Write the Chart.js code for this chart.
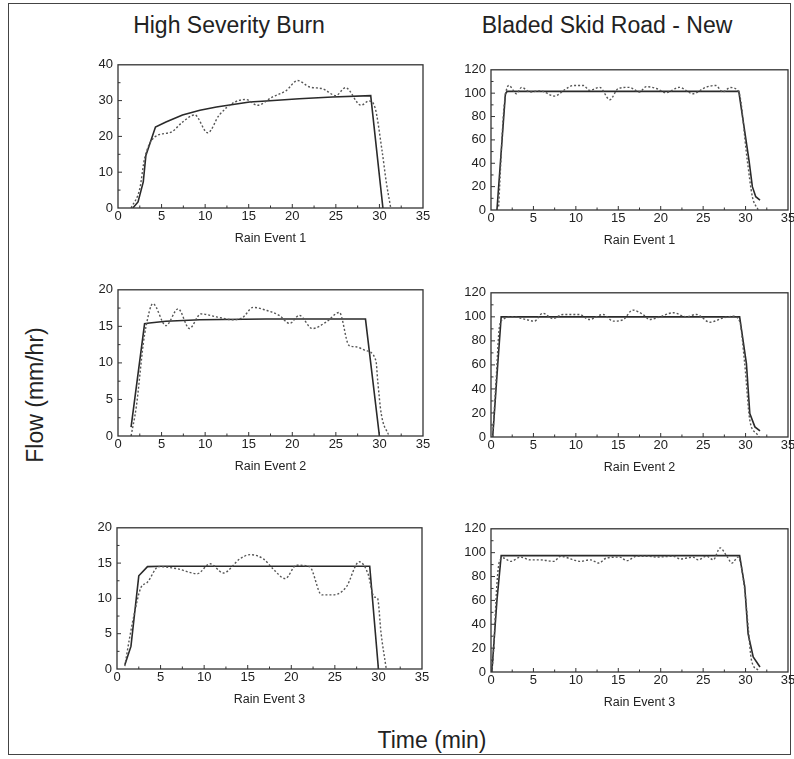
<!DOCTYPE html>
<html>
<head>
<meta charset="utf-8">
<script src="https://cdn.jsdelivr.net/npm/chart.js@4.4.1/dist/chart.umd.min.js"></script>
<style>
  body { margin: 0; width: 794px; height: 759px; background: #fff; position: relative; overflow: hidden;
         font-family: "Liberation Sans", Arial, sans-serif; color: #222; }
  #frame { position: absolute; left: 8px; top: 3px; width: 783px; height: 752px; border: 1.5px solid #444; box-sizing: border-box; }
  .lbl { position: absolute; font-size: 23px; white-space: nowrap; transform: translate(-50%, -50%); }
  canvas { position: absolute; }
</style>
</head>
<body>
<div id="frame"></div>
<div class="lbl" style="left:229px; top:25px">High Severity Burn</div>
<div class="lbl" style="left:607px; top:25px">Bladed Skid Road - New</div>
<div class="lbl" style="left:35px; top:395px; transform:translate(-50%,-50%) rotate(-90deg)">Flow (mm/hr)</div>
<div class="lbl" style="left:432px; top:740px">Time (min)</div>

<canvas id="burn1"></canvas>
<canvas id="skid1"></canvas>
<canvas id="burn2"></canvas>
<canvas id="skid2"></canvas>
<canvas id="burn3"></canvas>
<canvas id="skid3"></canvas>

<script>
// [time (min), flow (mm/hr)] - solid = model, dotted = measured
const burnEvent1Model = [[1.7,0],[2.3,1.7],[2.9,7.3],[3.2,14.7],[4.3,22.6],[5.5,24],[7.4,26],[9.4,27.3],[11.3,28.2],[13.2,28.9],[15.1,29.6],[17,29.9],[20.8,30.5],[24.6,31],[29.0,31.4],[30.4,0]];
const burnEvent1Obs = [[1.5,0],[2.5,5.4],[3.05,13.8],[4.2,19.8],[6.1,21.2],[7.4,24],[8.8,26],[10.3,21],[11.6,25.9],[13.4,29.6],[14.7,30.3],[16.0,28.7],[17.7,31],[19.3,32.8],[20.6,35.6],[22,33.8],[23.5,33.3],[25,31.4],[26.1,33.6],[27.9,28.7],[28.8,29.9],[29.5,28],[30.3,16],[30.8,7],[31.3,0]];

const burnEvent2Model = [[1.5,1.2],[3.05,15.35],[3.6,15.45],[5.5,15.7],[9.4,15.9],[17,16],[28.4,16],[30.0,0]];
const burnEvent2Obs = [[1.5,0],[2.1,4],[2.9,12.6],[3.2,14.9],[4.0,18.1],[5.5,15.1],[6.9,17.4],[8.2,14.7],[9.5,16.7],[11.3,16.3],[13.2,15.9],[14.3,16.2],[15.5,17.6],[17.0,17.2],[18.5,16.5],[19.7,15.4],[20.8,16.5],[22.3,14.7],[23.9,15.6],[25.4,16.9],[26.5,12.4],[27.3,12.2],[28.4,11.7],[29.6,10.3],[29.8,7.6],[30.2,3.1],[31.1,0]];

const burnEvent3Model = [[0.9,0.6],[1.6,3.2],[2.5,13.2],[3.5,14.5],[5,14.55],[29.0,14.55],[30.0,0]];
const burnEvent3Obs = [[0.9,0.4],[1.4,4.1],[2.0,7.9],[2.7,11.4],[3.5,12.3],[4.8,14.5],[6.9,14.2],[9.2,13.5],[10.7,14.9],[12.2,13.6],[14.1,15.6],[15.3,16.2],[16.8,15.6],[17.9,14.2],[19.3,12.8],[20.6,14.7],[22.1,14.5],[23.5,10.5],[24.8,10.5],[26.3,11.6],[27.8,15.2],[28.8,13.5],[29.5,10.2],[29.9,10.0],[30.3,5.1],[30.9,0]];

const skidEvent1Model = [[0.7,0],[1.7,99.5],[1.9,101.5],[29.2,101.5],[30.4,42.6],[30.8,20],[31.2,11.4],[31.7,8.5]];
const skidEvent1Obs = [[0.9,3],[1.5,85],[2.1,106.6],[3.0,99.5],[3.6,105],[4.6,101],[5.8,102],[7.5,97.5],[8.7,103],[9.7,106.6],[10.9,106.6],[11.6,102.4],[12.8,105],[14.0,94.4],[15.0,104],[16.3,105],[17.5,101],[18.3,105.6],[19.5,104],[20.6,100.4],[22.2,105],[23.8,99.5],[25.3,105],[26.5,106.6],[27.3,101],[28.2,104.8],[29.2,101],[30.2,42.6],[30.8,11.4],[31.5,0]];

const skidEvent2Model = [[0.2,0],[0.8,61],[1.2,100],[29.3,100],[30.1,61],[30.5,19.5],[31.1,8.4],[31.7,5]];
const skidEvent2Obs = [[0.2,0],[0.6,47],[1.0,92],[1.4,97.8],[2.6,100],[4.1,97.8],[5.1,96.4],[6.1,103],[7.3,98.6],[8.5,102],[10.4,102],[11.6,97.8],[13.2,102],[14.4,96.4],[15.6,97.8],[16.7,105.6],[17.9,102],[18.7,97.8],[19.9,100],[21.5,103.4],[23.0,100],[24.2,102],[25.8,95.5],[27.4,99.2],[28.5,100.5],[29.3,96.4],[29.9,61],[30.5,14],[31.3,2.8],[31.6,0]];

const skidEvent3Model = [[0.1,0],[0.7,60],[1.2,97.5],[29.3,97.5],[29.9,71.6],[30.3,32],[30.9,12.6],[31.7,4.2]];
const skidEvent3Obs = [[0.1,0],[0.3,18],[0.7,74],[1.0,92.7],[1.5,95.5],[2.3,92.7],[3.5,96.3],[4.6,94],[5.8,94],[7.4,92.7],[8.2,97],[9.7,94],[10.5,92.7],[11.7,94],[12.7,91.3],[13.6,95.5],[15.2,96.3],[16.0,93.3],[17.2,97],[18.4,97],[19.5,96.3],[21.5,97],[22.3,94.7],[23.8,96.3],[24.4,94],[25.4,97],[26.2,94],[27.0,104],[27.8,97],[28.4,91.3],[29.1,96.3],[29.9,69],[30.3,38],[30.7,9.8],[31.5,1.4]];

const eventLabels = ['Rain Event 1', 'Rain Event 2', 'Rain Event 3'];
const burnYMax = [40, 20, 20];
const burnYStep = [10, 5, 5];
const skidYMax = [120, 120, 120];
const skidYStep = [20, 20, 20];

// frame around plot area + small inward ticks
const boxTicks = {
  id: 'boxTicks',
  afterDraw(chart) {
    const { ctx, chartArea: a, scales: { x, y } } = chart;
    ctx.save();
    ctx.strokeStyle = '#333';
    ctx.lineWidth = 1.3;
    ctx.strokeRect(a.left, a.top, a.right - a.left, a.bottom - a.top);
    ctx.lineWidth = 1;
    ctx.beginPath();
    for (let v = 2.5; v < 35; v += 2.5) {
      const px = x.getPixelForValue(v);
      ctx.moveTo(px, a.bottom);
      ctx.lineTo(px, a.bottom - (v % 5 ? 2.5 : 4));
    }
    const half = y.options.ticks.stepSize / 2;
    for (let v = half; v < y.max; v += half) {
      const py = y.getPixelForValue(v);
      ctx.moveTo(a.left, py);
      ctx.lineTo(a.left + ((v / half) % 2 ? 2.5 : 4), py);
    }
    ctx.stroke();
    ctx.restore();
  }
};

function makePanel(id, box, model, obs, ymax, ystep, label) {
  const padL = 45, padT = 12, padR = 14, padB = 45;
  const cv = document.getElementById(id);
  cv.width = box.w + padL + padR;
  cv.height = box.h + padT + padB;
  cv.style.left = (box.x - padL) + 'px';
  cv.style.top = (box.y - padT) + 'px';
  const pts = arr => arr.map(p => ({ x: p[0], y: p[1] }));
  new Chart(cv.getContext('2d'), {
    type: 'line',
    data: {
      datasets: [
        { data: pts(obs), borderColor: '#555', borderWidth: 1.4, borderDash: [2, 2],
          cubicInterpolationMode: 'monotone', pointRadius: 0 },
        { data: pts(model), borderColor: '#2a2a2a', borderWidth: 1.6, tension: 0, pointRadius: 0 }
      ]
    },
    options: {
      responsive: false,
      animation: false,
      layout: { padding: { top: padT, right: padR, left: 0, bottom: 0 } },
      plugins: { legend: { display: false }, tooltip: { enabled: false } },
      scales: {
        x: {
          type: 'linear', min: 0, max: 35,
          ticks: { stepSize: 5, padding: 1, maxRotation: 0, color: '#222', font: { family: 'Liberation Sans', size: 13 } },
          grid: { display: false, drawTicks: false },
          border: { display: false },
          title: { display: true, text: label, color: '#222', font: { family: 'Liberation Sans', size: 12.5 }, padding: { top: 0, bottom: 7 } },
          afterFit(s) { s.height = padB; }
        },
        y: {
          min: 0, max: ymax,
          ticks: { stepSize: ystep, padding: 5, color: '#222', font: { family: 'Liberation Sans', size: 13 } },
          grid: { display: false, drawTicks: false },
          border: { display: false },
          afterFit(s) { s.width = padL; }
        }
      }
    },
    plugins: [boxTicks]
  });
}

const leftBoxes = [
  { x: 118, y: 64, w: 305, h: 144 },
  { x: 118, y: 289, w: 305, h: 147 },
  { x: 117, y: 527, w: 305, h: 142 }
];
const rightBoxes = [
  { x: 491, y: 69, w: 297, h: 141 },
  { x: 491, y: 292, w: 297, h: 145 },
  { x: 491, y: 528, w: 297, h: 144 }
];
const burnModels = [burnEvent1Model, burnEvent2Model, burnEvent3Model];
const burnObs = [burnEvent1Obs, burnEvent2Obs, burnEvent3Obs];
const skidModels = [skidEvent1Model, skidEvent2Model, skidEvent3Model];
const skidObs = [skidEvent1Obs, skidEvent2Obs, skidEvent3Obs];

for (let i = 0; i < 3; i++) {
  makePanel('burn' + (i + 1), leftBoxes[i], burnModels[i], burnObs[i], burnYMax[i], burnYStep[i], eventLabels[i]);
  makePanel('skid' + (i + 1), rightBoxes[i], skidModels[i], skidObs[i], skidYMax[i], skidYStep[i], eventLabels[i]);
}
</script>
</body>
</html>
